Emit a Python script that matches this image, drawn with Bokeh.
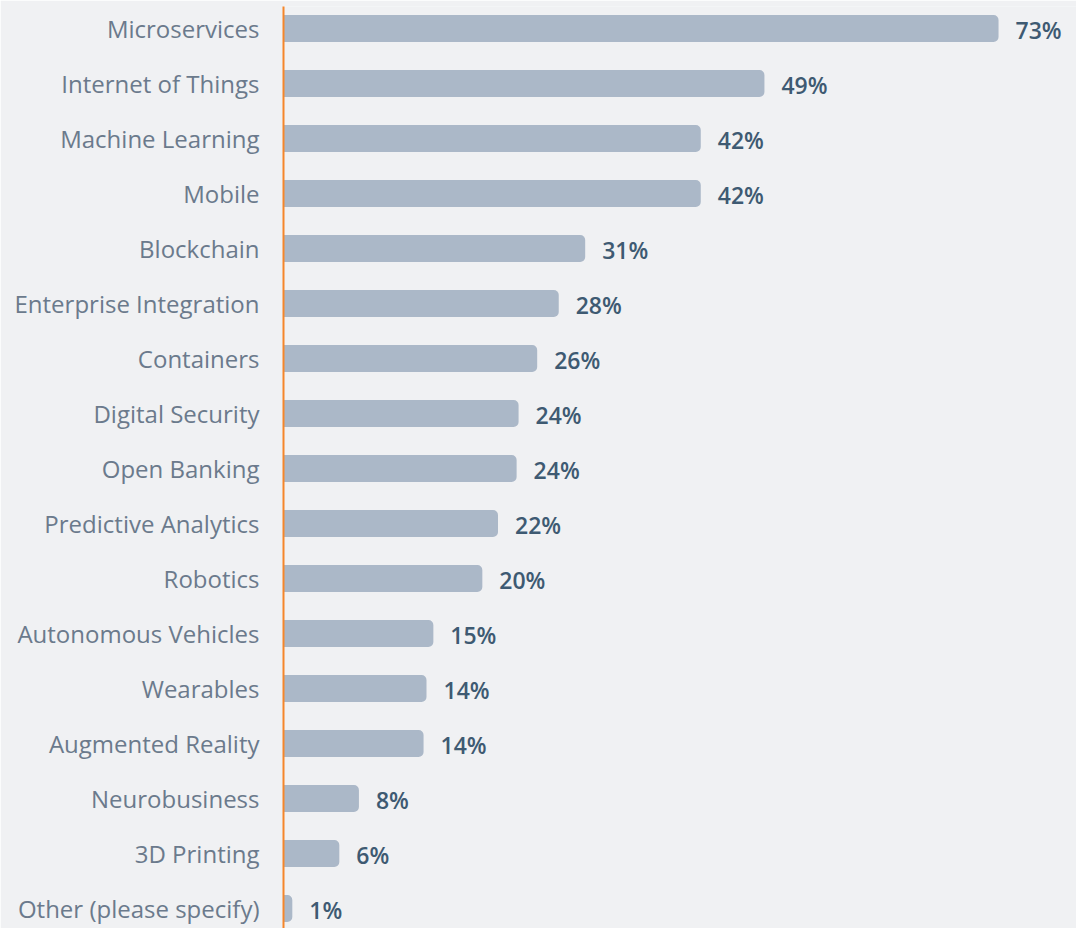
from bokeh.plotting import figure
from bokeh.models import ColumnDataSource, Range1d, FixedTicker
from bokeh.core.properties import value
from bokeh.embed import file_html
from bokeh.resources import INLINE

categories = [
    "Microservices", "Internet of Things", "Machine Learning", "Mobile",
    "Blockchain", "Enterprise Integration", "Containers", "Digital Security",
    "Open Banking", "Predictive Analytics", "Robotics", "Autonomous Vehicles",
    "Wearables", "Augmented Reality", "Neurobusiness", "3D Printing",
    "Other (please specify)",
]
# bar lengths (unrounded shares, %)
shares = [73.0, 49.1, 42.6, 42.6, 30.8, 28.1, 25.9, 24.0, 23.8, 21.9, 20.3,
          15.3, 14.6, 14.3, 7.7, 5.7, 0.9]
# printed labels
value_labels = ["73%", "49%", "42%", "42%", "31%", "28%", "26%", "24%", "24%",
                "22%", "20%", "15%", "14%", "14%", "8%", "6%", "1%"]

BG = "#f0f1f3"
BAR = "#abb8c8"
LABEL = "#6b7a8c"
VALUE = "#3e5a72"
AXIS = "#f5862a"

rows = list(range(len(categories)))
src = ColumnDataSource(dict(y=rows, v=shares, lab=value_labels))

W, H = 1076, 928
LEFT = 283
TOPB = 6
px_per_row = 55.0
px_per_unit = 9.795
top = -(28 - TOPB) / px_per_row
p = figure(
    width=W, height=H, output_backend="svg", toolbar_location=None,
    x_range=Range1d(0, (W - LEFT) / px_per_unit),
    y_range=Range1d(top + (H - TOPB) / px_per_row, top),
    min_border_left=LEFT, min_border_right=0, min_border_top=TOPB, min_border_bottom=0,
    background_fill_color=BG, border_fill_color=BG, outline_line_color=None,
)
p.xaxis.visible = False
p.xgrid.visible = False
p.ygrid.visible = False

ax = p.yaxis[0]
ax.ticker = FixedTicker(ticks=rows)
ax.major_label_overrides = {i: c for i, c in enumerate(categories)}
ax.major_tick_line_color = None
ax.minor_tick_line_color = None
ax.major_tick_out = 0
ax.major_tick_in = 0
ax.axis_line_color = AXIS
ax.axis_line_width = 2
ax.major_label_standoff = 24
ax.major_label_text_font = "Open Sans"
ax.major_label_text_font_size = "24px"
ax.major_label_text_color = LABEL

p.hbar(y="y", left=0, right="v", height=0.49, source=src,
       fill_color=BAR, line_color=None, border_radius=(0, 5, 5, 0))

p.text(x="v", y="y", text="lab", source=src, x_offset=17, y_offset=1,
       text_font=value("'Open Sans SemiBold', 'Open Sans'"), text_font_style="normal",
       text_font_size="23px", text_color=VALUE,
       text_baseline="middle", text_align="left")

open("out.html", "w").write(file_html(p, INLINE))
